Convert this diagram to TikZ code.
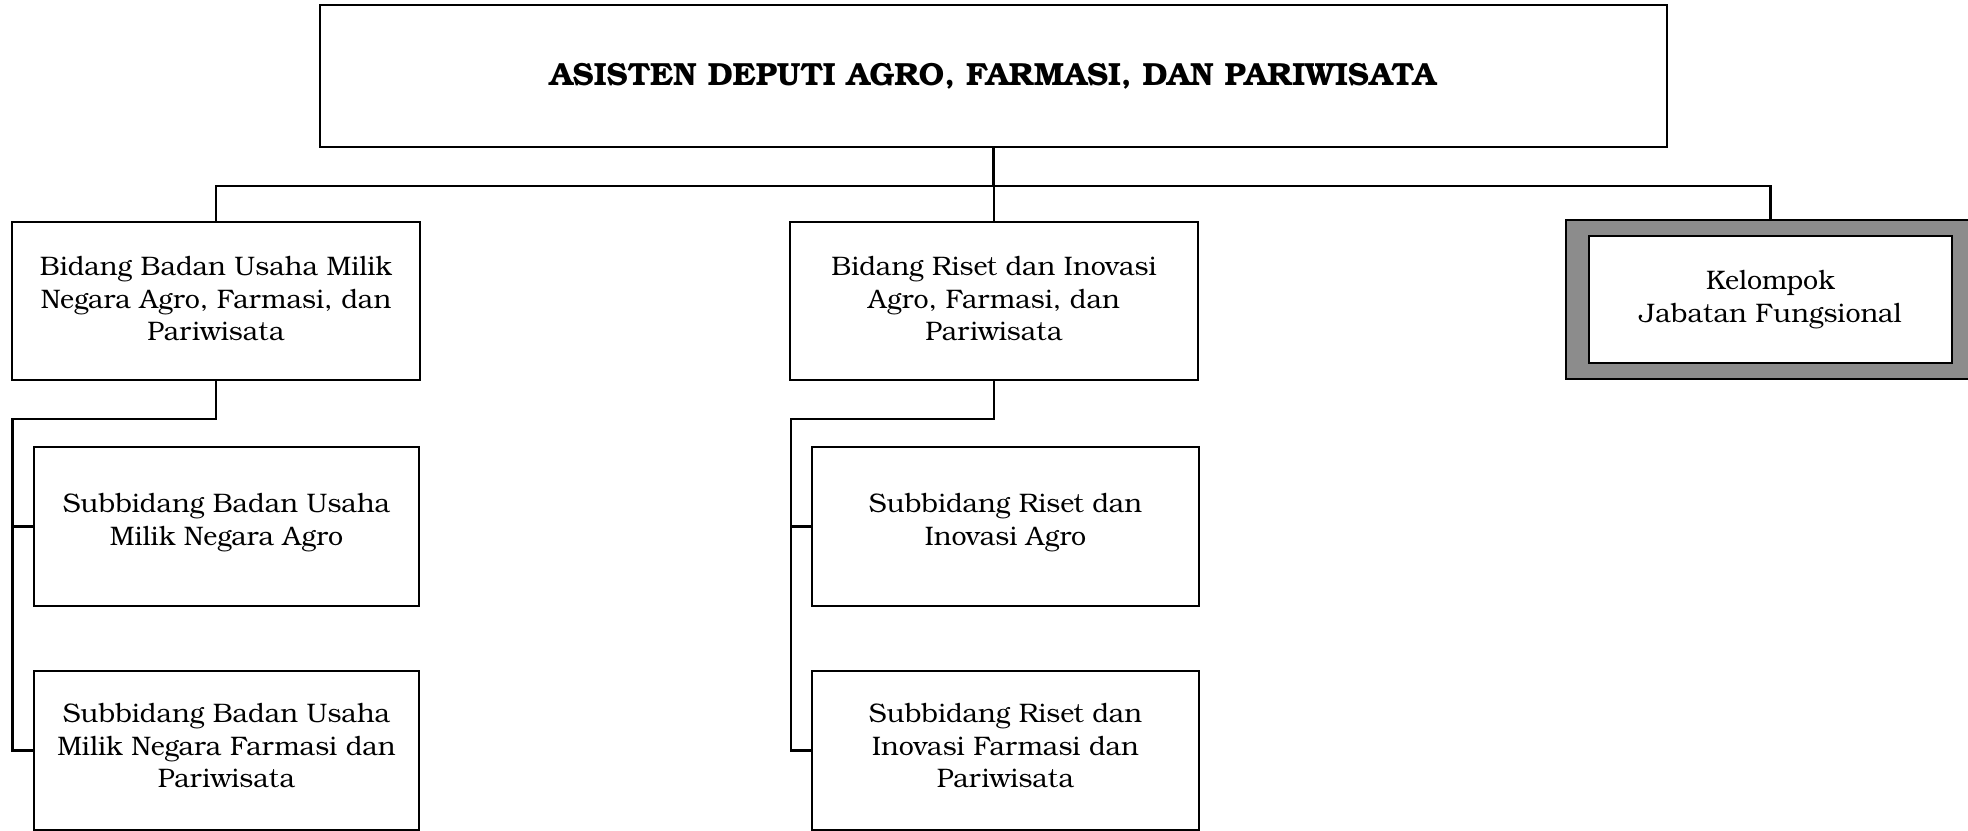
\documentclass[tikz,border=0pt]{standalone}
\usepackage{fontspec}
\setmainfont{TeX Gyre Bonum}
\newcommand\lowstrut[1]{\rule[-#1]{0pt}{#1}}
\begin{document}
\begin{tikzpicture}[x=0.5pt,y=-0.5pt,
  box/.style={draw=black,line width=1pt,rectangle,inner sep=0pt,align=center,
    font=\fontsize{13.4}{16.3}\selectfont},
  conn/.style={draw=black,line width=1.1pt},
  hatch/.style={draw=black,line width=0.8pt,fill=black!45,rectangle,inner sep=0pt}]
\useasboundingbox (0,0) rectangle (1968,830);
\clip (0,0) rectangle (1968,830);
\node[box,minimum width=673.5pt,minimum height=71pt,font=\fontsize{16}{19}\selectfont] (top) at (993.5,76)
  {\textbf{ASISTEN DEPUTI AGRO, FARMASI, DAN PARIWISATA}};
\node[box,minimum width=204pt,minimum height=79pt] (b1) at (216,301)
  {Bidang Badan Usaha Milik\\Negara Agro, Farmasi, dan\\Pariwisata\lowstrut{2.5pt}};
\node[box,minimum width=204pt,minimum height=79pt] (b2) at (994,301)
  {Bidang Riset dan Inovasi\\Agro, Farmasi, dan\\Pariwisata\lowstrut{2.5pt}};
\node[hatch,minimum width=204.5pt,minimum height=79.5pt] (kelo) at (1770.5,299.5) {};
\node[box,fill=white,minimum width=181.5pt,minimum height=63.5pt] (keli) at (1770.5,299.5)
  {Kelompok\\Jabatan Fungsional};
\node[box,minimum width=192.5pt,minimum height=79.5pt] (s11) at (226.5,526.5)
  {Subbidang Badan Usaha\\Milik Negara Agro\lowstrut{7pt}};
\node[box,minimum width=192.5pt,minimum height=79.5pt] (s12) at (226.5,750.5)
  {Subbidang Badan Usaha\\Milik Negara Farmasi dan\\Pariwisata\lowstrut{5pt}};
\node[box,minimum width=193.5pt,minimum height=79.5pt] (s21) at (1005.5,526.5)
  {Subbidang Riset dan\\Inovasi Agro\lowstrut{7pt}};
\node[box,minimum width=193.5pt,minimum height=79.5pt] (s22) at (1005.5,750.5)
  {Subbidang Riset dan\\Inovasi Farmasi dan\\Pariwisata\lowstrut{5pt}};
\coordinate (bus) at (0,186);
\coordinate (l1) at (12.5,419);
\coordinate (l2) at (791,419);
\draw[conn] (top.south) -- (top.south |- bus);
\draw[conn] (b1.north) -- (b1.north |- bus) -- (kelo.north |- bus) -- (kelo.north);
\draw[conn] (b2.north) -- (b2.north |- bus);
\draw[conn] (b1.south) |- (l1) -- (l1 |- s12.west) -- (s12.west);
\draw[conn] (l1 |- s11.west) -- (s11.west);
\draw[conn] (b2.south) |- (l2) -- (l2 |- s22.west) -- (s22.west);
\draw[conn] (l2 |- s21.west) -- (s21.west);
\end{tikzpicture}
\end{document}
